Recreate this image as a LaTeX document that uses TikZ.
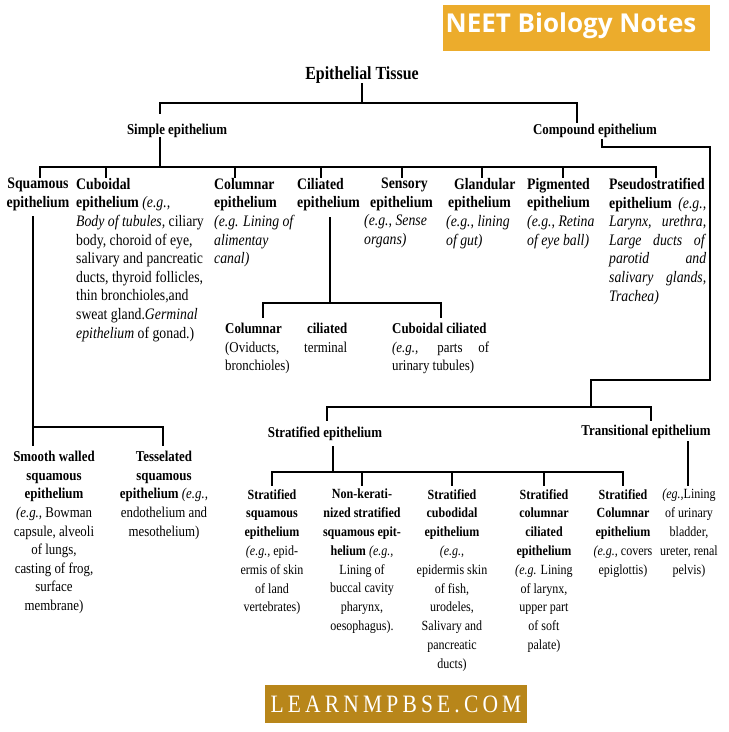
\documentclass[tikz,border=0pt]{standalone}
\usepackage{fontspec}
\setmainfont[FakeStretch=0.86]{Liberation Serif}
\newfontfamily\headfont{Open Sans}
\definecolor{neetorange}{HTML}{ECAC2C}
\definecolor{sitebrown}{HTML}{B8861A}
\newcommand\spreadline[2]{\makebox[#1][s]{#2}}
\tikzset{
  txt/.style={anchor=north,inner sep=0pt,align=center,font=\fontsize{16}{18.6}\selectfont},
  midtxt/.style={txt,font=\fontsize{15}{18.6}\selectfont},
  lowtxt/.style={txt,font=\fontsize{14}{18.8}\selectfont},
  head/.style={anchor=center,inner sep=0pt,font=\fontsize{15}{17}\selectfont\bfseries},
  link/.style={line width=1.2pt,line cap=rect}
}
\begin{document}
\begin{tikzpicture}[x=1pt,y=-1pt]
    \useasboundingbox (0,0) rectangle (729,732);
    \fill[neetorange] (443,5) rectangle (710,51);
    \node[text=white,font=\headfont\fontsize{26}{28}\selectfont\bfseries] (neet) at (571,26) {NEET Biology Notes};
    \fill[sitebrown] (265,685) rectangle (527,723);
    \node[text=white,font=\fontsize{25}{27}\selectfont] (site) at (396,704) {L\,E\,A\,R\,N\,M\,P\,B\,S\,E\,.\,C\,O\,M};
    % top level
    \node[head,font=\fontsize{18.5}{20}\selectfont\bfseries] (tissue) at (362,75) {Epithelial Tissue};
    \node[head] (simple) at (177,131) {Simple epithelium};
    \node[head] (compound) at (595,131) {Compound epithelium};
    \coordinate (t1) at (362,103);
    \draw[link] (tissue.south) -- (t1);
    \draw[link] (160,113) |- (t1) -| (577,122);
    % simple epithelium children
    \node[txt] (squamous) at (38,178) {\textbf{Squamous}\\\textbf{epithelium}};
    \node[txt,anchor=north west,align=left] (cuboidal) at (76,178) {\textbf{Cuboidal}\\\textbf{epithelium} \textit{(e.g.,}\\\textit{Body of tubules,} ciliary\\body, choroid of eye,\\salivary and pancreatic\\ducts, thyroid follicles,\\thin bronchioles,and\\sweat gland.\textit{Germinal}\\\textit{epithelium} of gonad.)};
    \node[txt,anchor=north west,align=left] (columnar) at (214,178) {\textbf{Columnar}\\\textbf{epithelium}\\\textit{(e.g. Lining of}\\\textit{alimentay}\\\textit{canal)}};
    \node[txt,anchor=north west,align=left] (ciliated) at (297,178) {\textbf{Ciliated}\\\textbf{epithelium}};
    \node[txt,anchor=north west,align=left] (sensory) at (364,178) {\hspace*{17pt}\textbf{Sensory}\\\hspace*{6pt}\textbf{epithelium}\\\textit{(e.g., Sense}\\\textit{organs)}};
    \node[txt,anchor=north west,align=left] (glandular) at (446,178) {\hspace*{8pt}\textbf{Glandular}\\\hspace*{2pt}\textbf{epithelium}\\\textit{(e.g., lining}\\\textit{of gut)}};
    \node[txt,anchor=north west,align=left] (pigmented) at (527,178) {\textbf{Pigmented}\\\textbf{epithelium}\\\textit{(e.g., Retina}\\\textit{of eye ball)}};
    \node[txt,anchor=north west,align=left] (pseudo) at (609,178) {\textbf{Pseudostratified}\\\spreadline{97pt}{\textbf{epithelium} \textit{(e.g.,}}\\\spreadline{97pt}{\textit{Larynx, urethra,}}\\\spreadline{97pt}{\textit{Large ducts of}}\\\spreadline{97pt}{\textit{parotid and}}\\\spreadline{97pt}{\textit{salivary glands,}}\\\textit{Trachea)}};
    \draw[link] (simple.south -| 160,0) -- (160,167);
    \draw[link] (40,177) |- (656,167) -- (656,177);
    \foreach \x in {106,235,321,402,482,563} \draw[link] (\x,167) -- (\x,177);
    % ciliated children
    \node[midtxt,anchor=north west,align=left] (colcil) at (225,323) {\spreadline{122pt}{\textbf{Columnar ciliated}}\\\spreadline{122pt}{(Oviducts, terminal}\\bronchioles)};
    \node[midtxt,anchor=north west,align=left] (cubcil) at (392,323) {\textbf{Cuboidal ciliated}\\\spreadline{97pt}{\textit{(e.g.,} parts of}\\urinary tubules)};
    \draw[link] (330,218) -- (330,303);
    \draw[link] (263,317) |- (441,303) -- (441,317);
    % squamous children
    \node[midtxt] (smooth) at (54,451) {\textbf{Smooth walled}\\\textbf{squamous}\\\textbf{epithelium}\\\textit{(e.g.,} Bowman\\capsule, alveoli\\of lungs,\\casting of frog,\\surface\\membrane)};
    \node[midtxt] (tesselated) at (164,451) {\textbf{Tesselated}\\\textbf{squamous}\\\textbf{epithelium} \textit{(e.g.,}\\endothelium and\\mesothelium)};
    \draw[link] (33,217) -- (33,427);
    \draw[link] (33,445) |- (163,427) -- (163,445);
    % compound epithelium children
    \node[head] (stratified) at (325,434) {Stratified epithelium};
    \node[head] (transitional) at (646,432) {Transitional epithelium};
    \coordinate (c1) at (602,147);
    \coordinate (c2) at (710,380);
    \draw[link] (602,140) -- (c1) -| (c2) -| (591,407);
    \draw[link] (327,420) |- (651,407) -- (651,420);
    % stratified children
    \node[lowtxt] (strsq) at (272,489) {\textbf{Stratified}\\\textbf{squamous}\\\textbf{epithelium}\\\textit{(e.g.,} epid-\\ermis of skin\\of land\\vertebrates)};
    \node[lowtxt] (nonker) at (362,489) {\textbf{Non-kerati-}\\\textbf{nized stratified}\\\textbf{squamous epit-}\\\textbf{helium} \textit{(e.g.,}\\Lining of\\buccal cavity\\pharynx,\\oesophagus).};
    \node[lowtxt] (strcub) at (452,489) {\textbf{Stratified}\\\textbf{cubodidal}\\\textbf{epithelium}\\\textit{(e.g.,}\\epidermis skin\\of fish,\\urodeles,\\Salivary and\\pancreatic\\ducts)};
    \node[lowtxt] (strcolcil) at (544,489) {\textbf{Stratified}\\\textbf{columnar}\\\textbf{ciliated}\\\textbf{epithelium}\\\textit{(e.g.} Lining\\of larynx,\\upper part\\of soft\\palate)};
    \node[lowtxt] (strcol) at (623,489) {\textbf{Stratified}\\\textbf{Columnar}\\\textbf{epithelium}\\\textit{(e.g.,} covers\\epiglottis)};
    \node[lowtxt] (transex) at (689,489) {\textit{(eg.,}Lining\\of urinary\\bladder,\\ureter, renal\\pelvis)};
    \draw[link] (333,447) -- (333,472);
    \draw[link] (272,485) |- (623,472) -- (623,485);
    \foreach \x in {362,452,544} \draw[link] (\x,472) -- (\x,485);
    \draw[link] (688,442) -- (688,485);
\end{tikzpicture}
\end{document}
